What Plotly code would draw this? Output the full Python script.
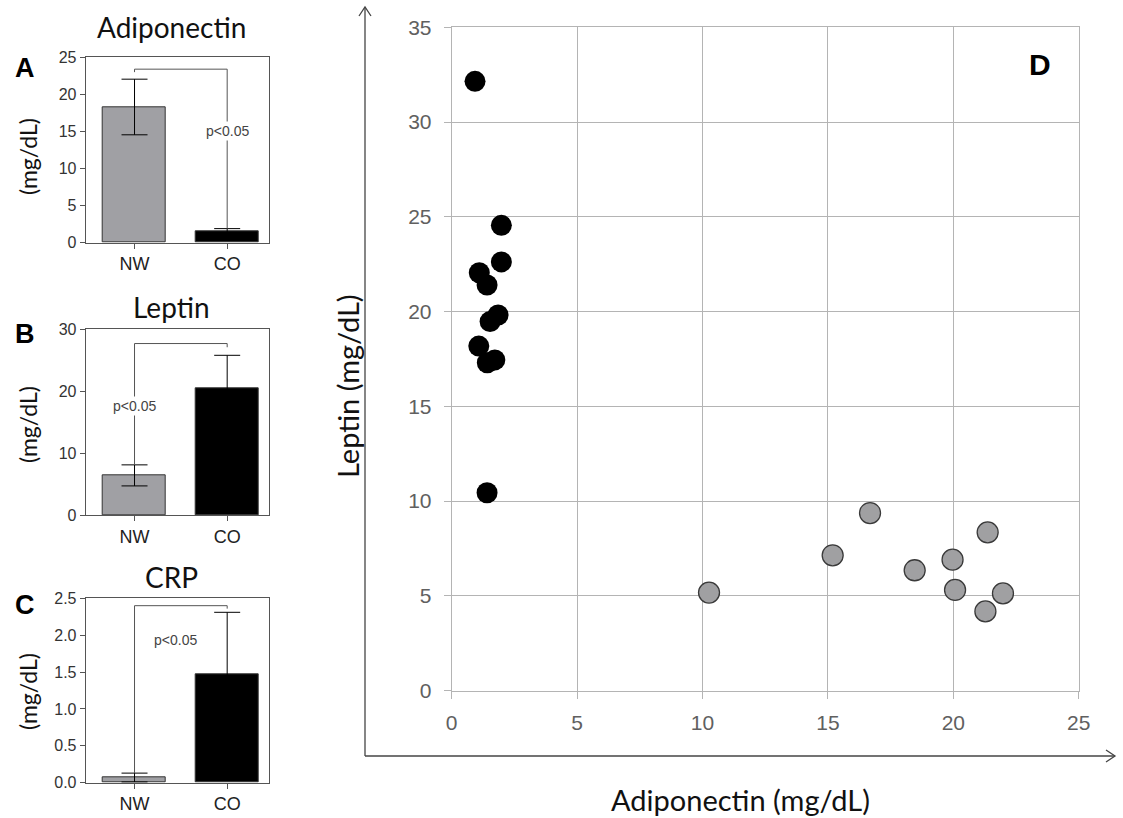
import plotly.graph_objects as go

# ---------------- data ----------------
groups = ["NW", "CO"]

adipo_mean = [18.3, 1.5]
adipo_sd = [3.75, 0.4]

leptin_mean = [6.4, 20.4]
leptin_sd = [1.7, 5.4]

crp_mean = [0.07, 1.47]
crp_sd = [0.06, 0.84]

# scatter (panel D)
co_adipo = [0.93, 1.98, 1.98, 1.10, 1.41, 1.85, 1.53, 1.08, 1.42, 1.72, 1.41]
co_leptin = [32.15, 24.55, 22.62, 22.05, 21.40, 19.82, 19.47, 18.18, 17.30, 17.45, 10.44]
nw_adipo = [10.26, 16.68, 15.19, 18.46, 19.97, 21.37, 20.07, 21.98, 21.28]
nw_leptin = [5.17, 9.37, 7.14, 6.35, 6.91, 8.35, 5.31, 5.13, 4.18]

W, H = 1123, 818


def fx(px):
    return px / W


def fy(py):
    return 1 - py / H


GRAY = "#a0a0a4"
BAR_COLORS = [GRAY, "#000000"]
LINE = "#555555"
TICKFONT = dict(family="Liberation Sans, Arial", size=16, color="#333333")
TITLEFONT = "Lato, Carlito, Calibri, sans-serif"

fig = go.Figure()

panels = [
    (adipo_mean, adipo_sd, "", [0, 25], 5, None, (57.3, 242.7)),
    (leptin_mean, leptin_sd, "2", [0, 30], 10, None, (329.3, 515.0)),
    (crp_mean, crp_sd, "3", [0, 2.5], 0.5, ".1f", (598.3, 782.7)),
]

layout_axes = {}
for mean, sd, suf, yr, dt, tf, (top, bot) in panels:
    fig.add_trace(go.Bar(
        x=groups, y=mean, width=0.68,
        marker=dict(color=BAR_COLORS, line=dict(color="#333333", width=1)),
        error_y=dict(type="data", array=sd, visible=True, color="#000000",
                     thickness=1, width=13),
        xaxis="x" + suf, yaxis="y" + suf, showlegend=False,
    ))
    layout_axes["xaxis" + suf] = dict(
        domain=[fx(85.7), fx(268.5)], anchor="y" + suf,
        type="category", range=[-0.527, 1.446], automargin=False,
        showline=True, linecolor="#555555", linewidth=1, mirror=True,
        ticks="outside", ticklen=5, tickcolor="#555555",
        tickfont=dict(family="Liberation Sans, Arial", size=18, color="#222222"),
        showgrid=False, zeroline=False, fixedrange=True,
    )
    layout_axes["yaxis" + suf] = dict(
        domain=[fy(bot), fy(top)], anchor="x" + suf,
        range=yr, dtick=dt, tickformat=tf, automargin=False,
        showline=True, linecolor="#555555", linewidth=1, mirror=True,
        ticks="outside", ticklen=5, tickcolor="#555555",
        tickfont=TICKFONT, showgrid=False, zeroline=False,
    )

# significance brackets
brackets = [
    ("", ["NW", "NW", "CO", "CO"], [23.0, 23.4, 23.4, adipo_mean[1] + adipo_sd[1]]),
    ("2", ["NW", "NW", "CO", "CO"], [leptin_mean[0] + leptin_sd[0], 27.7, 27.7, 27.1]),
    ("3", ["NW", "NW", "CO", "CO"], [crp_mean[0] + crp_sd[0], 2.40, 2.40, 2.36]),
]
for suf, bx, by in brackets:
    fig.add_trace(go.Scatter(
        x=bx, y=by, mode="lines", line=dict(color=LINE, width=1),
        xaxis="x" + suf, yaxis="y" + suf, showlegend=False, hoverinfo="skip",
    ))

# panel D scatter
fig.add_trace(go.Scatter(
    x=nw_adipo, y=nw_leptin, mode="markers", xaxis="x4", yaxis="y4",
    marker=dict(size=21, color="#a0a0a2", line=dict(color="#3a3a3a", width=1.3)),
    showlegend=False,
))
fig.add_trace(go.Scatter(
    x=co_adipo, y=co_leptin, mode="markers", xaxis="x4", yaxis="y4",
    marker=dict(size=21, color="#000000", line=dict(color="#000000", width=0)),
    showlegend=False,
))

GRID = "#b4b4b4"
layout_axes["xaxis4"] = dict(
    domain=[fx(451.7), fx(1078.7)], anchor="y4", range=[0, 25], dtick=5,
    showgrid=True, gridcolor=GRID, gridwidth=1, zeroline=False, automargin=False,
    showline=True, linecolor=GRID, mirror=True,
    ticks="outside", ticklen=7, tickcolor=GRID, ticklabelstandoff=6,
    tickfont=dict(family="Liberation Sans, Arial", size=21, color="#606060"),
)
layout_axes["yaxis4"] = dict(
    domain=[fy(690.6), fy(27.3)], anchor="x4", range=[0, 35], dtick=5,
    showgrid=True, gridcolor=GRID, gridwidth=1, zeroline=False, automargin=False,
    showline=True, linecolor=GRID, mirror=True,
    ticks="outside", ticklen=7, tickcolor=GRID, ticklabelstandoff=8,
    tickfont=dict(family="Liberation Sans, Arial", size=21, color="#606060"),
)


def ann(x, y, text, font, angle=0, **kw):
    d = dict(x=x, y=y, xref="paper", yref="paper", text=text, showarrow=False,
             xanchor="center", yanchor="middle", textangle=angle, font=font)
    d.update(kw)
    return d


annotations = []
for title, letter, ty, ly, yl in [
    ("Adiponectin", "A", 27, 68, 157),
    ("Leptin", "B", 307, 334, 425),
    ("CRP", "C", 577, 605, 692),
]:
    annotations.append(ann(fx(171), fy(ty), title,
                           dict(family=TITLEFONT, size=28, color="#111111")))
    annotations.append(ann(fx(25), fy(ly), "<b>" + letter + "</b>",
                           dict(family="Liberation Sans, Arial", size=27, color="#000000")))
    annotations.append(ann(fx(28), fy(yl), "(mg/dL)",
                           dict(family=TITLEFONT, size=23, color="#111111"), angle=-90))

# p-value texts
pfont = dict(family="Liberation Sans, Arial", size=14, color="#444444")
annotations.append(dict(x="CO", y=15, xref="x", yref="y", text="p<0.05",
                        xanchor="center", yanchor="middle",
                        showarrow=False, bgcolor="white", font=pfont))
annotations.append(dict(x="NW", y=17.6, xref="x2", yref="y2", text="p<0.05",
                        xanchor="center", yanchor="middle",
                        showarrow=False, bgcolor="white", font=pfont))
annotations.append(dict(x=0.44, y=1.94, xref="x3", yref="y3", text="p<0.05",
                        xanchor="center", yanchor="middle",
                        showarrow=False, font=pfont))

# panel D labels
annotations.append(ann(fx(1040), fy(64), "<b>D</b>",
                       dict(family="Liberation Sans, Arial", size=30, color="#000000")))
annotations.append(ann(fx(740), fy(799), "Adiponectin (mg/dL)",
                       dict(family=TITLEFONT, size=29, color="#111111")))
annotations.append(ann(fx(347), fy(386), "Leptin (mg/dL)",
                       dict(family=TITLEFONT, size=29, color="#111111"), angle=-90))

# arrow axes for panel D
ARW = "#444444"
shapes = [
    dict(type="line", xref="paper", yref="paper", x0=fx(365), y0=fy(756),
         x1=fx(365), y1=fy(7), line=dict(color=ARW, width=1.3)),
    dict(type="path", xref="paper", yref="paper",
         path=f"M {fx(359)} {fy(16)} L {fx(365)} {fy(7)} L {fx(371)} {fy(16)}",
         line=dict(color=ARW, width=1.3)),
    dict(type="line", xref="paper", yref="paper", x0=fx(365), y0=fy(756),
         x1=fx(1115), y1=fy(756), line=dict(color=ARW, width=1.3)),
    dict(type="path", xref="paper", yref="paper",
         path=f"M {fx(1106)} {fy(750)} L {fx(1115)} {fy(756)} L {fx(1106)} {fy(762)}",
         line=dict(color=ARW, width=1.3)),
]

fig.update_layout(
    template="none",
    width=W, height=H,
    margin=dict(l=0, r=0, t=0, b=0, pad=0, autoexpand=False),
    paper_bgcolor="white", plot_bgcolor="white",
    showlegend=False, bargap=0,
    annotations=annotations, shapes=shapes,
    **layout_axes,
)

fig.write_html(
    "out.html",
    config={"displayModeBar": False},
    post_script="document.body.style.margin='0';document.body.style.overflow='hidden';",
)
